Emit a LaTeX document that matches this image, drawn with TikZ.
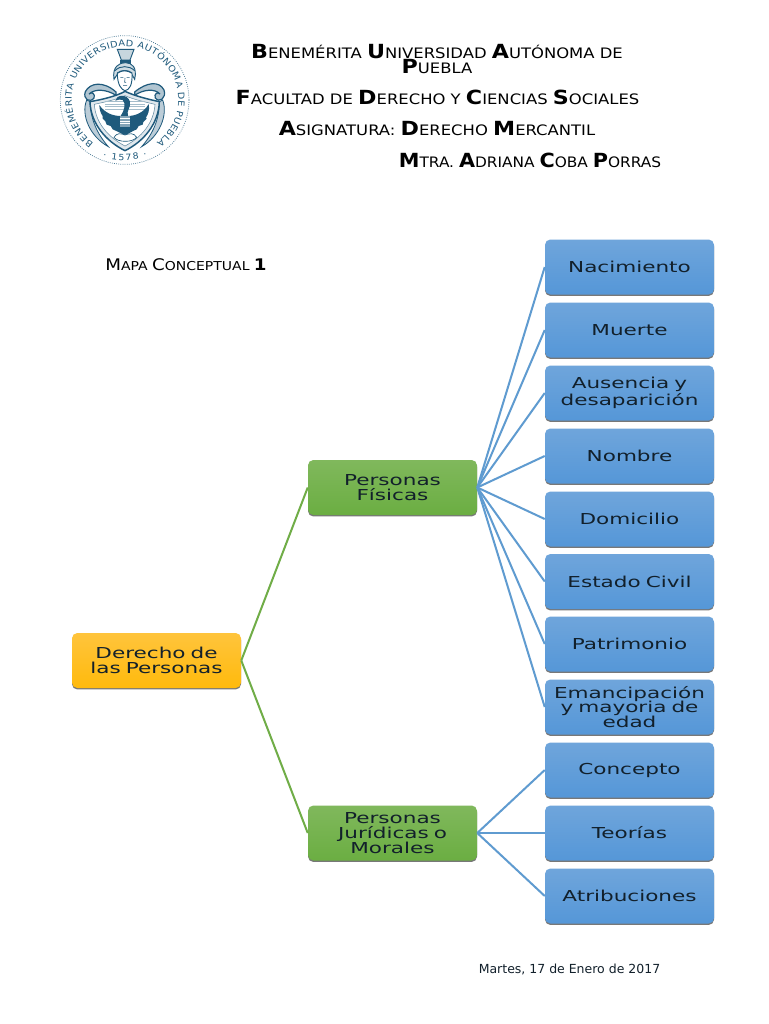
\documentclass[tikz,border=0pt]{standalone}
\usepackage{fontspec}
\setmainfont{DejaVu Sans}
\newfontfamily\wide[FakeStretch=1.43]{DejaVu Sans}
\newfontfamily\headf[FakeStretch=1.14]{DejaVu Sans}
\newfontfamily\logof[FakeStretch=1.1]{DejaVu Sans}
\usetikzlibrary{shadows,decorations.text}
\definecolor{blueT}{HTML}{6FA5DB}
\definecolor{blueB}{HTML}{5597D8}
\definecolor{blueL}{HTML}{5F9BD0}
\definecolor{greenT}{HTML}{80B85C}
\definecolor{greenB}{HTML}{6BAE42}
\definecolor{greenL}{HTML}{70AD47}
\definecolor{orT}{HTML}{FFC43C}
\definecolor{orB}{HTML}{FFBA0C}
\definecolor{logoC}{HTML}{1F5A7C}
\definecolor{ink}{HTML}{12202B}
\newcommand{\BC}[1]{{\fontsize{14.6pt}{13pt}\selectfont\bfseries #1}}
\newcommand{\MC}[1]{{\fontsize{12pt}{11pt}\selectfont #1}}
\tikzset{
 x=0.75pt,y=-0.75pt,
 mapbox/.style={rounded corners=4pt,minimum width=126.75pt,minimum height=41.25pt,inner sep=0pt,
   text width=126pt,align=center,text=ink,
   font=\wide\fontsize{11.3pt}{11.1pt}\selectfont,
   drop shadow={shadow xshift=0pt,shadow yshift=-1.1pt,fill=black!70,opacity=.75}},
 bluebox/.style={mapbox,top color=blueT,bottom color=blueB},
 greenbox/.style={mapbox,top color=greenT,bottom color=greenB},
 orbox/.style={mapbox,top color=orT,bottom color=orB},
 bluelink/.style={draw=blueL,line width=1.5pt},
 greenlink/.style={draw=greenL,line width=1.5pt},
 head/.style={anchor=center,align=center,text=black,font=\headf\fontsize{10.8pt}{11pt}\selectfont},
 logoline/.style={draw=logoC,line width=.7pt},
 logofill/.style={fill=logoC,draw=none}
}
\begin{document}
\begin{tikzpicture}
\useasboundingbox (0,0) rectangle (768,1024);
\fill[white] (0,0) rectangle (768,1024);

% header
\node[head] (h1) at (437,51.5) {\BC{B}ENEMÉRITA \BC{U}NIVERSIDAD \BC{A}UTÓNOMA DE};
\node[head] (h1b) at (437,67) {\BC{P}UEBLA};
\node[head] (h2) at (437.5,97.5) {\BC{F}ACULTAD DE \BC{D}ERECHO Y \BC{C}IENCIAS \BC{S}OCIALES};
\node[head] (h3) at (437,129) {\BC{A}SIGNATURA: \BC{D}ERECHO \BC{M}ERCANTIL};
\node[head] (h4) at (530,160.5) {\scalebox{.936}[1]{\BC{M}TRA. \BC{A}DRIANA \BC{C}OBA \BC{P}ORRAS}};
\node[head,font=\headf\fontsize{9.2pt}{10pt}\selectfont] (mc) at (186,265) {\MC{M}APA \MC{C}ONCEPTUAL \MC{\bfseries 1}};
\node[text=ink,font=\fontsize{9.37pt}{10pt}\selectfont] (date) at (569.5,969.5) {Martes, 17 de Enero de 2017};

% logo, in the coordinates of a 3x crop
\begin{scope}[shift={(40,20)},x=0.25pt,y=-0.25pt]
 \draw[logoC!80,line width=.55pt,dash pattern=on .6pt off 1pt] (254,240) circle[radius=193];
 \path[decorate,decoration={text along path,text align=fit to path,
   text={|\logof\fontsize{6.6pt}{7pt}\selectfont\color{logoC}|BENEMÉRITA UNIVERSIDAD AUTÓNOMA DE PUEBLA}}]
   (161,369) arc[start angle=234,end angle=-54,x radius=160,y radius=-160];
 \path[decorate,decoration={text along path,text align=fit to path,
   text={|\logof\fontsize{6.4pt}{7pt}\selectfont\color{logoC}|· 1578 ·}}]
   (188,411) .. controls (225,424) and (285,424) .. (322,411);
 % ribbons behind the shield
 \draw[logoC,fill=logoC!30,line width=.6pt] (140,240) .. controls (122,285) and (150,350) .. (205,380) .. controls (172,342) and (152,300) .. (150,245) -- cycle;
 \draw[logoC,fill=logoC!30,line width=.6pt] (368,240) .. controls (385,285) and (358,350) .. (305,380) .. controls (338,342) and (358,300) .. (358,245) -- cycle;
 % scrolls
 \draw[logoC,fill=logoC!35,line width=.9pt] (228,216) .. controls (190,182) and (150,188) .. (136,215) .. controls (128,238) and (150,250) .. (162,234) .. controls (167,222) and (155,214) .. (147,222) .. controls (165,205) and (200,208) .. (228,226) -- cycle;
 \draw[logoC,fill=logoC!35,line width=.9pt] (284,216) .. controls (320,186) and (358,182) .. (372,210) .. controls (380,234) and (358,250) .. (346,234) .. controls (341,222) and (353,214) .. (360,222) .. controls (345,205) and (310,208) .. (284,226) -- cycle;
 % crest and helmet
 \fill[logoC!25] (232,88) -- (282,88) -- (270,120) -- (244,120) -- cycle;
 \draw[logoline] (232,88) -- (282,88) -- (270,120) -- (244,120) -- cycle;
 \fill[logoC] (241,120) rectangle (273,131);
 \draw[logoline,fill=logoC!22] (222,178) .. controls (216,140) and (238,128) .. (256,128) .. controls (276,128) and (292,142) .. (284,178) -- (274,160) .. controls (262,150) and (246,150) .. (234,160) -- cycle;
 \draw[logoline] (225,152) .. controls (240,136) and (268,136) .. (284,152);
 \draw[logoC,line width=1.2pt] (232,160) .. controls (245,150) and (264,150) .. (276,160);
 % face
 \draw[logoline,fill=white] (232,160) .. controls (232,195) and (245,210) .. (255,212) .. controls (268,210) and (278,195) .. (276,160) .. controls (262,150) and (245,150) .. (232,160) -- cycle;
 \draw[logoC,line width=.45pt] (241,172) -- (250,172) (260,172) -- (269,172) (255,174) -- (254,187) -- (258,187) (249,196) -- (261,196);
 % shield
 \draw[logoC,line width=1.1pt,fill=logoC!14] (150,245) .. controls (190,238) and (230,228) .. (255,214) .. controls (285,228) and (325,238) .. (358,245) .. controls (356,312) and (310,365) .. (255,392) .. controls (200,365) and (152,312) .. (150,245) -- cycle;
 \draw[logoC!70,line width=.4pt,fill=white] (163,253) .. controls (195,246) and (232,238) .. (255,227) .. controls (280,238) and (315,246) .. (345,253) .. controls (342,308) and (305,352) .. (255,378) .. controls (205,352) and (166,308) .. (163,253) -- cycle;
 \foreach \yy in {244,252,260,268}{\draw[logoC!40,line width=.4pt] (195,\yy) -- (315,\yy);}
 % eagle
 \fill[logoC] (226,242) .. controls (228,224) and (262,220) .. (270,245) .. controls (274,262) and (258,272) .. (264,288)
   .. controls (285,288) and (312,278) .. (326,252) .. controls (330,270) and (324,284) .. (318,292) -- (320,296) -- (310,306) -- (308,314) -- (296,318) -- (290,328)
   .. controls (276,334) and (264,342) .. (255,346) .. controls (246,342) and (232,334) .. (218,328) -- (212,318) -- (200,314) -- (196,304) -- (188,296) -- (188,288)
   .. controls (182,280) and (178,268) .. (178,255) .. controls (195,280) and (220,288) .. (242,288)
   .. controls (254,270) and (258,250) .. (248,240) .. controls (242,236) and (234,240) .. (226,242) -- cycle;
 \fill[logoC!55] (240,288) rectangle (270,322);
 \foreach \yy in {295,303,311}{\draw[white,line width=.3pt] (240,\yy) -- (270,\yy);}
 % nopal base
 \draw[logoC,line width=.5pt,fill=white] (222,352) .. controls (230,338) and (242,340) .. (255,345) .. controls (268,340) and (282,338) .. (290,352) .. controls (278,368) and (234,368) .. (222,352) -- cycle;
\end{scope}

% map
\node[orbox] (root) at (156.5,660.5) {Derecho de\\las Personas};
\node[greenbox] (fis) at (392.5,487.5) {Personas\\Físicas};
\node[greenbox] (jur) at (392.5,833) {Personas\\Jurídicas o\\Morales};
\node[bluebox] (n1) at (629.5,267) {Nacimiento};
\node[bluebox] (n2) at (629.5,330) {Muerte};
\node[bluebox] (n3) at (629.5,393) {Ausencia y\\desaparición};
\node[bluebox] (n4) at (629.5,456) {Nombre};
\node[bluebox] (n5) at (629.5,519) {Domicilio};
\node[bluebox] (n6) at (629.5,581.5) {Estado Civil};
\node[bluebox] (n7) at (629.5,644) {Patrimonio};
\node[bluebox] (n8) at (629.5,707) {Emancipación\\y mayoria de\\edad};
\node[bluebox] (n9) at (629.5,770) {Concepto};
\node[bluebox] (n10) at (629.5,833) {Teorías};
\node[bluebox] (n11) at (629.5,896) {Atribuciones};

\draw[greenlink] (root.east) -- (fis.west);
\draw[greenlink] (root.east) -- (jur.west);
\foreach \n in {n1,n2,n3,n4,n5,n6,n7,n8}{\draw[bluelink] (fis.east) -- (\n.west);}
\foreach \n in {n9,n10,n11}{\draw[bluelink] (jur.east) -- (\n.west);}
\end{tikzpicture}
\end{document}
